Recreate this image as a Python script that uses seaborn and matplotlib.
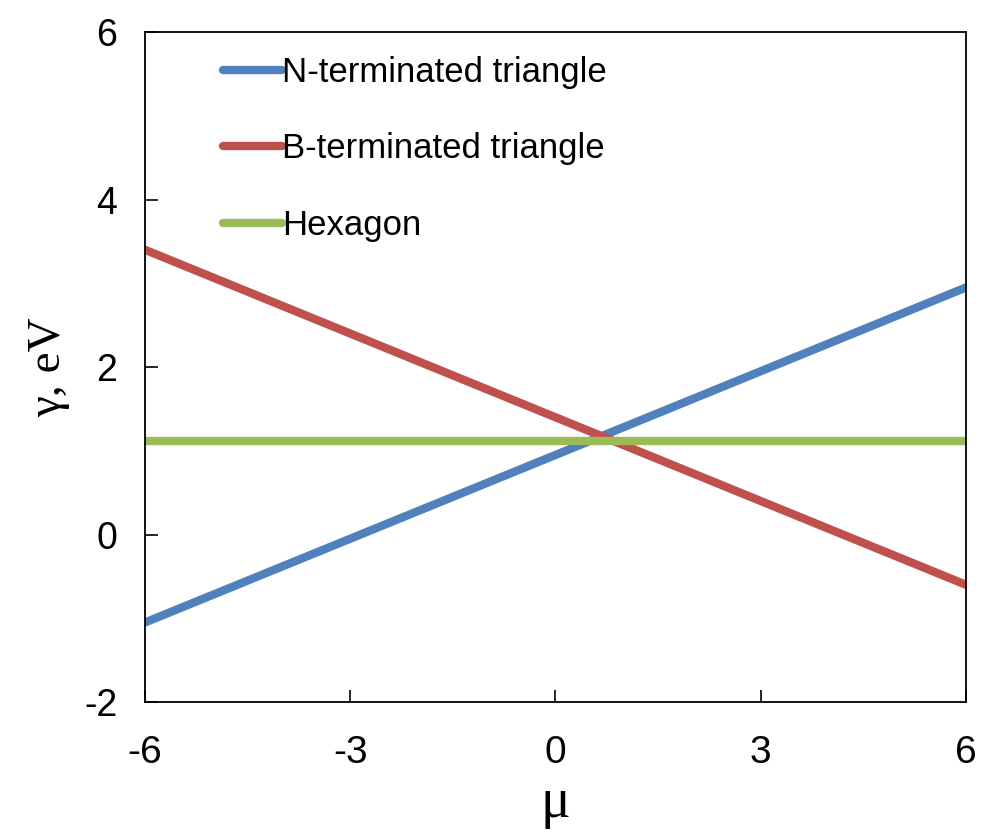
import pandas as pd
import seaborn as sns
import matplotlib.pyplot as plt

# chemical potential end points and surface energies (eV)
mu = [-6, 6]
n_triangle = [-1.05, 2.95]
b_triangle = [3.40, -0.60]
hexagon = [1.12, 1.12]

names = ["N-terminated triangle", "B-terminated triangle", "Hexagon"]
colors = ["#4F81BD", "#C0504D", "#9BBB59"]

df = pd.concat([
    pd.DataFrame({"mu": mu, "gamma": n_triangle, "shape": names[0]}),
    pd.DataFrame({"mu": mu, "gamma": b_triangle, "shape": names[1]}),
    pd.DataFrame({"mu": mu, "gamma": hexagon, "shape": names[2]}),
])

sns.set_style("white")
plt.rcParams["font.family"] = ["Liberation Sans", "DejaVu Sans"]
plt.rcParams["axes.unicode_minus"] = False
plt.rcParams["text.color"] = "black"

fig = plt.figure(figsize=(9.85, 8.32), dpi=100)
ax = fig.add_axes([0.1472, 0.1562, 0.8335, 0.8053])

sns.lineplot(data=df, x="mu", y="gamma", hue="shape", palette=colors,
             linewidth=6, ax=ax)

ax.set_xlim(-6, 6)
ax.set_ylim(-2, 6)
ax.set_xticks([-6, -3, 0, 3, 6])
ax.set_yticks([-2, 0, 2, 4, 6])
ax.tick_params(bottom=True, left=True, direction="in", length=9, width=1.2,
               labelsize=27, pad=20, colors="black")
ax.tick_params(axis="x", labelsize=28, pad=24)
for s in ax.spines.values():
    s.set_color("black")
    s.set_linewidth(1.3)

ax.set_xlabel("μ", family=["Liberation Serif", "DejaVu Serif"], fontsize=40,
              labelpad=4, color="black")
ax.set_ylabel("γ, eV", family=["Liberation Serif", "DejaVu Serif"], fontsize=34,
              labelpad=10, color="black")

leg = ax.legend(loc="upper left", bbox_to_anchor=(0.074, 0.99), frameon=False,
                fontsize=25, handlelength=1.7, handletextpad=0.0,
                labelspacing=1.25, borderpad=0)
for line in leg.get_lines():
    line.set_linewidth(6)

fig.savefig("out.png", dpi=100)
